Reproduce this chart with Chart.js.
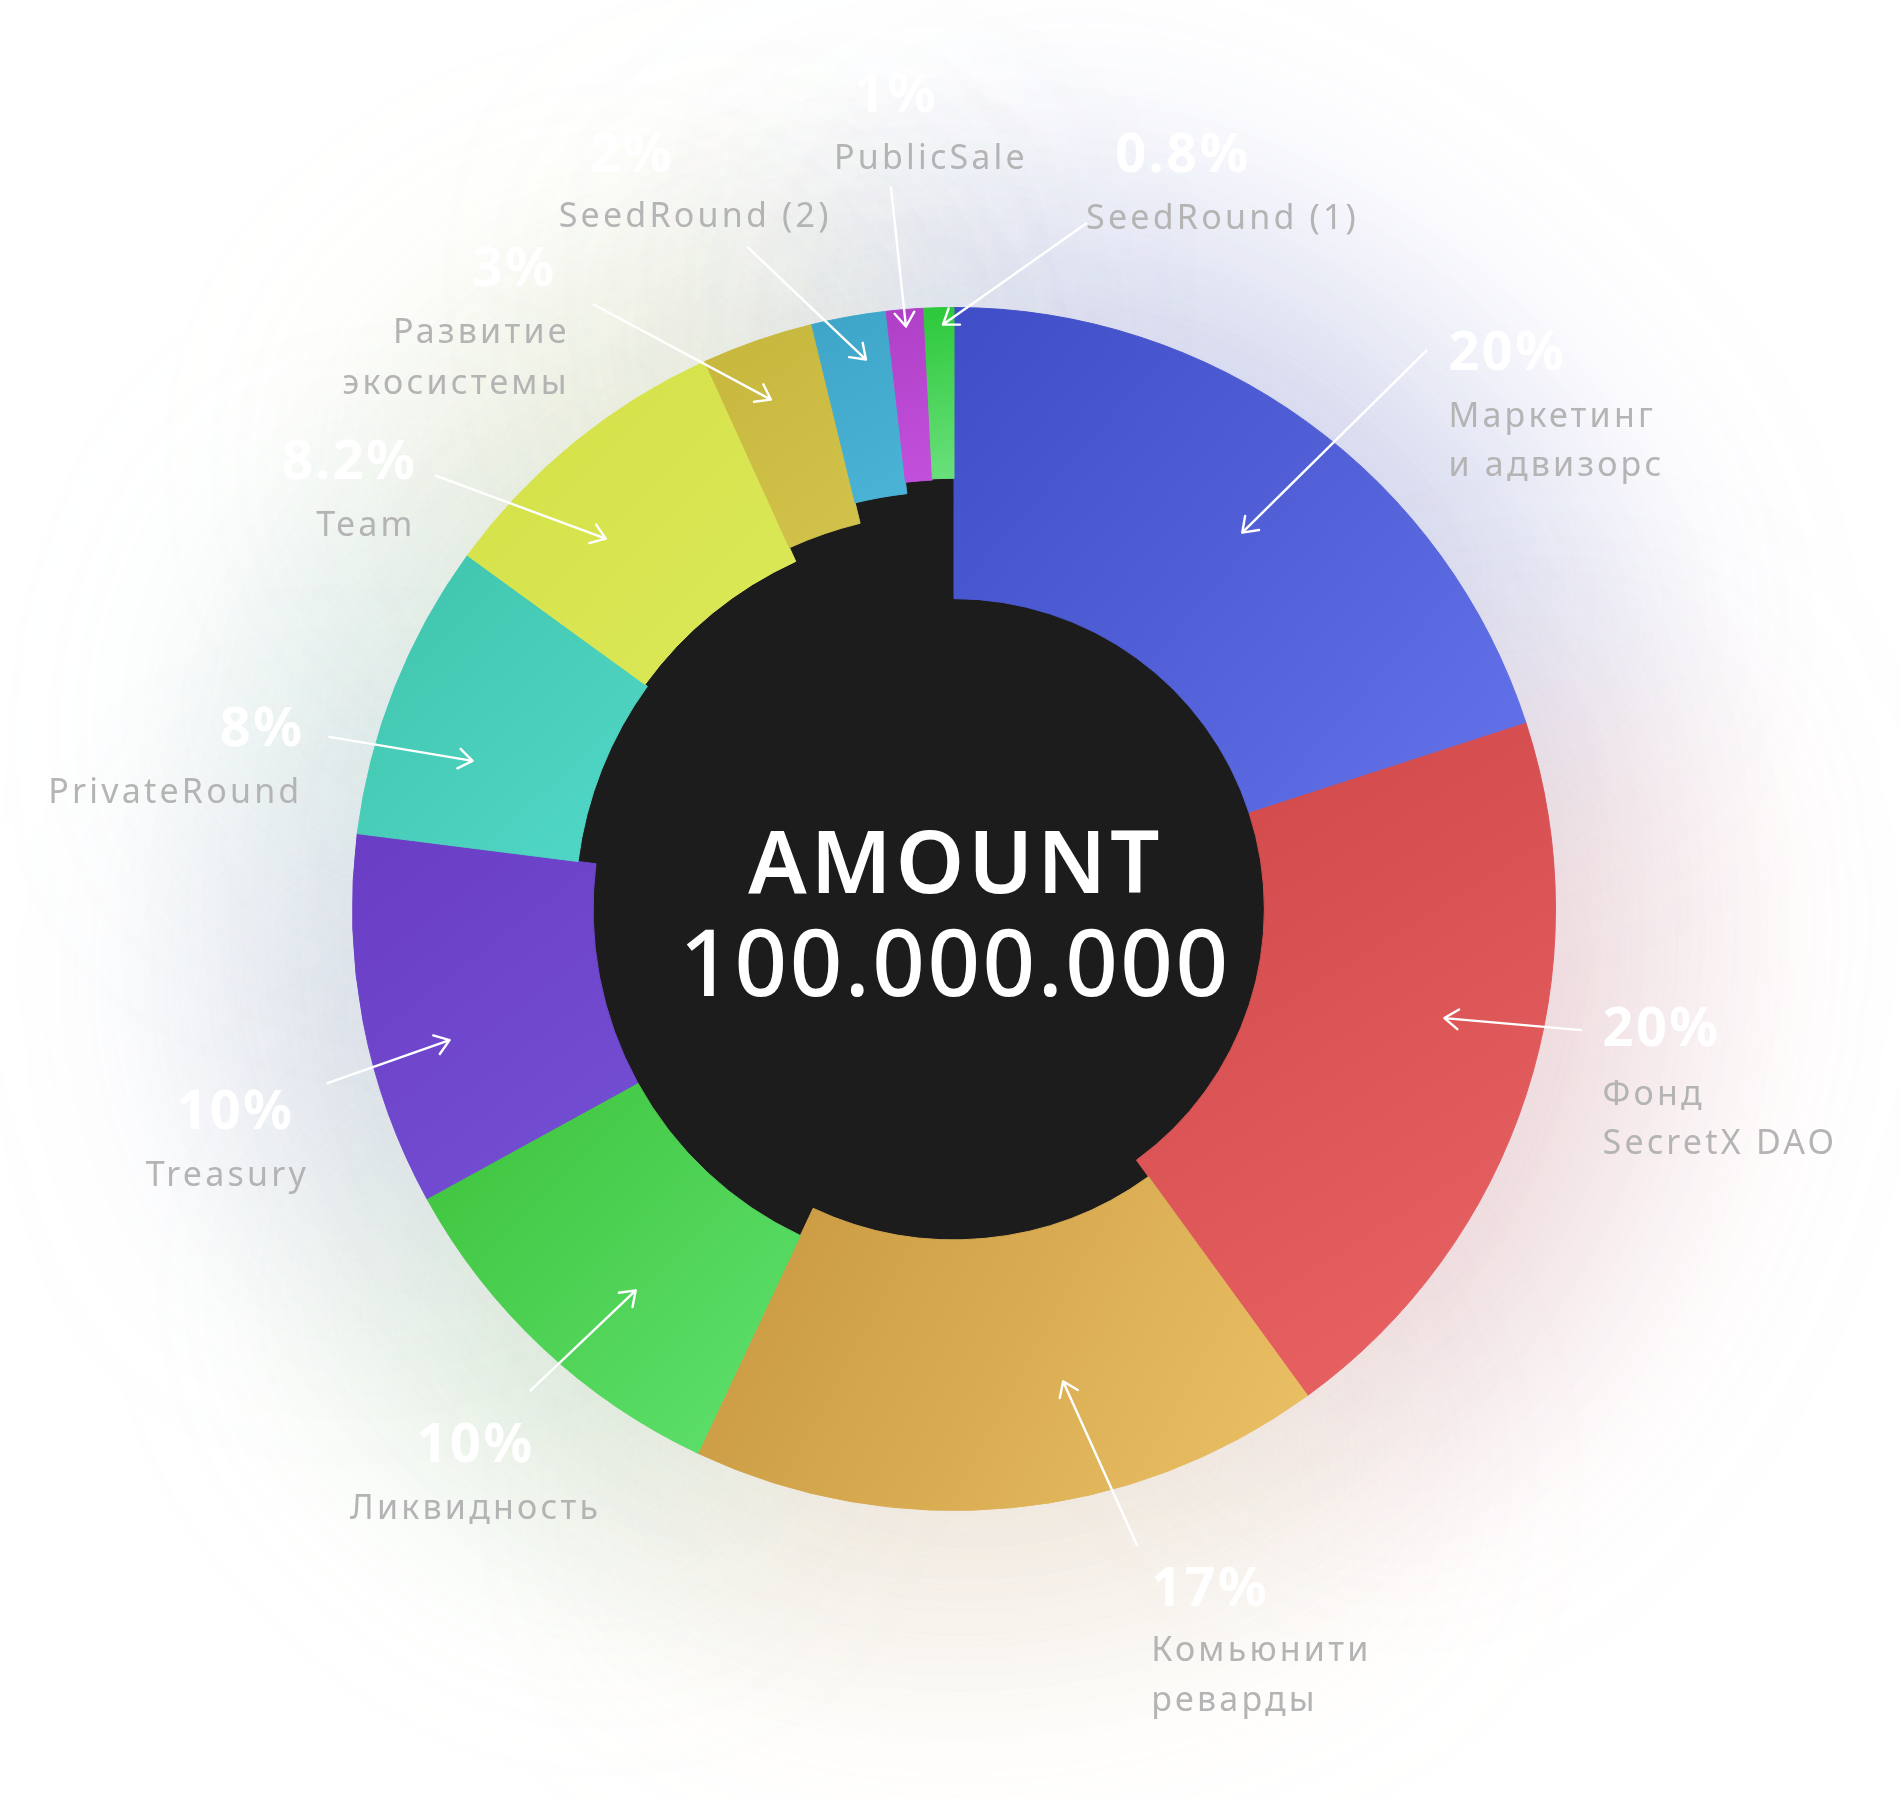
<!DOCTYPE html>
<html>
<head>
<meta charset="utf-8">
<script src="https://cdn.jsdelivr.net/npm/chart.js@4.4.1/dist/chart.umd.min.js"></script>
<style>
html,body{margin:0;padding:0;background:#ffffff;}
canvas{display:block;}
</style>
</head>
<body>
<canvas id="chart" width="1900" height="1799"></canvas>
<script>
// ---------- DATA ----------
const categories = [
  ['Маркетинг', 'и адвизорс'],
  ['Фонд', 'SecretX DAO'],
  ['Комьюнити', 'реварды'],
  ['Ликвидность'],
  ['Treasury'],
  ['PrivateRound'],
  ['Team'],
  ['Развитие', 'экосистемы'],
  ['SeedRound (2)'],
  ['PublicSale'],
  ['SeedRound (1)']
];
const shares = [20, 20, 17, 10, 10, 8, 8.2, 3, 2, 1, 0.8];
const centerTitle = 'AMOUNT';
const centerValue = '100.000.000';

// ---------- STYLE ----------
const innerRatios = [0.516, 0.516, 0.55, 0.60, 0.60, 0.63, 0.635, 0.66, 0.695, 0.714, 0.716];
const colorsDark  = ['#3f4dc6', '#cf4748', '#c6963f', '#3dc23a', '#6a3dc4', '#3fc3ab', '#d4e045', '#c6b63c', '#3ea5c8', '#b03fc6', '#2cc83a'];
const colorsLight = ['#6573ea', '#ea6466', '#ecc266', '#60e270', '#7450d4', '#52d8c8', '#dce95a', '#d2c34c', '#4ab3d6', '#c250dc', '#6ae07c'];
const glowColors  = ['#6f78d8', '#e07c84', '#e8c08a', '#8cc87a', '#8090c0', '#88c8b8', '#c8d880', '#c8c070', '#80b0c8', '#b080c8', '#80c890'];
const centerFill = '#1c1c1c';
const labelGray = '#b4b4b4';
// label layout: offsets (px at the reference radius of 601) from the chart centre
const REF_R = 601;
const labelLayout = [
  {align:'left',   pct:[494,-539],  lx:494,  ly:[-482,-433], tail:[472,-558],  head:[288,-376]},
  {align:'left',   pct:[648,137],   lx:648,  ly:[196,245],   tail:[627,121],   head:[490,109]},
  {align:'left',   pct:[197,696],   lx:197,  ly:[751,801],   tail:[183,636],   head:[109,472]},
  {align:'center', pct:[-478,553],  lx:-478, ly:[609],       tail:[-423,481],  head:[-318,381]},
  {align:'center', pct:[-718,220],  lx:-726, ly:[277],       tail:[-626,174],  head:[-504,131]},
  {align:'right',  pct:[-649,-163], lx:-651, ly:[-106],      tail:[-624,-172], head:[-481,-148]},
  {align:'right',  pct:[-536,-430], lx:-538, ly:[-373],      tail:[-518,-433], head:[-348,-370]},
  {align:'right',  pct:[-397,-622], lx:-384, ly:[-566,-515], tail:[-360,-604], head:[-183,-509]},
  {align:'left',   pct:[-364,-736], lx:-395, ly:[-681],      tail:[-206,-661], head:[-88,-549]},
  {align:'left',   pct:[-100,-796], lx:-120, ly:[-739],      tail:[-63,-721],  head:[-48,-582]},
  {align:'left',   pct:[161,-736],  lx:132,  ly:[-679],      tail:[132,-685],  head:[-11,-584]}
];

const gradCache = {};
function sliceFill(context) {
  const chart = context.chart;
  const a = chart.chartArea;
  const i = context.dataIndex;
  if (i === undefined) return colorsDark[0];
  if (!a) return colorsDark[i];
  const key = i + ':' + a.left + ':' + a.top + ':' + a.right + ':' + a.bottom;
  if (gradCache[key]) return gradCache[key];
  const cx = (a.left + a.right) / 2, cy = (a.top + a.bottom) / 2;
  const R = Math.min(a.right - a.left, a.bottom - a.top) / 2;
  const total = shares.reduce((s, v) => s + v, 0);
  const start = shares.slice(0, i).reduce((s, v) => s + v, 0) / total * Math.PI * 2 - Math.PI / 2;
  const end = start + shares[i] / total * Math.PI * 2;
  let minX = Infinity, minY = Infinity, maxX = -Infinity, maxY = -Infinity;
  for (let t = 0; t <= 24; t++) {
    const ang = start + (end - start) * t / 24;
    for (const r of [R * innerRatios[i], R]) {
      const x = cx + r * Math.cos(ang), y = cy + r * Math.sin(ang);
      minX = Math.min(minX, x); maxX = Math.max(maxX, x);
      minY = Math.min(minY, y); maxY = Math.max(maxY, y);
    }
  }
  const g = chart.ctx.createLinearGradient(minX, minY, maxX, maxY);
  g.addColorStop(0, colorsDark[i]);
  g.addColorStop(1, colorsLight[i]);
  gradCache[key] = g;
  return g;
}

const ringPlugin = {
  id: 'ringPlugin',
  afterDatasetUpdate(chart, args) {
    const meta = args.meta;
    meta.data.forEach((el, i) => {
      el.innerRadius = el.outerRadius * innerRatios[i];
    });
  },
  beforeDatasetsDraw(chart) {
    const meta = chart.getDatasetMeta(0);
    if (!meta.data.length) return;
    const ctx = chart.ctx;
    const el0 = meta.data[0];
    const cx = el0.x, cy = el0.y, R = el0.outerRadius;
    // neutral soft shadow
    ctx.save();
    ctx.filter = 'blur(110px)';
    ctx.globalAlpha = 0.10;
    ctx.beginPath();
    ctx.arc(cx, cy, R * 1.12, 0, Math.PI * 2);
    ctx.fillStyle = '#50607a';
    ctx.fill();
    ctx.restore();
    // soft coloured glow around the ring
    ctx.save();
    ctx.filter = 'blur(120px)';
    ctx.globalAlpha = 0.22;
    meta.data.forEach((el, i) => {
      ctx.beginPath();
      ctx.moveTo(cx, cy);
      ctx.arc(cx, cy, R * 1.22, el.startAngle, el.endAngle);
      ctx.closePath();
      ctx.fillStyle = glowColors[i];
      ctx.fill();
    });
    ctx.restore();
    // dark centre disc
    ctx.save();
    ctx.beginPath();
    ctx.arc(cx, cy, R * 0.73, 0, Math.PI * 2);
    ctx.fillStyle = centerFill;
    ctx.fill();
    ctx.restore();
  },
  afterDatasetsDraw(chart) {
    const meta = chart.getDatasetMeta(0);
    if (!meta.data.length) return;
    const ctx = chart.ctx;
    const el0 = meta.data[0];
    const cx = el0.x, cy = el0.y, R = el0.outerRadius;
    const k = R / REF_R;
    // centre text
    ctx.save();
    ctx.fillStyle = '#ffffff';
    ctx.textAlign = 'center';
    ctx.textBaseline = 'alphabetic';
    ctx.font = '600 ' + Math.round(87 * k) + 'px "Noto Sans"';
    ctx.letterSpacing = (4 * k) + 'px';
    ctx.fillText(centerTitle, cx + 2 * k, cy - 16 * k);
    ctx.font = '500 ' + Math.round(92 * k) + 'px "Noto Sans"';
    ctx.letterSpacing = (2.5 * k) + 'px';
    ctx.fillText(centerValue, cx + 1 * k, cy + 87 * k);
    ctx.restore();

    // arrows and labels
    meta.data.forEach((el, i) => {
      const L = labelLayout[i];
      const tx = cx + L.tail[0] * k, ty = cy + L.tail[1] * k;
      const hx = cx + L.head[0] * k, hy = cy + L.head[1] * k;
      ctx.save();
      ctx.strokeStyle = '#ffffff';
      ctx.lineWidth = 2.4;
      ctx.lineCap = 'round';
      ctx.lineJoin = 'round';
      ctx.beginPath();
      ctx.moveTo(tx, ty);
      ctx.lineTo(hx, hy);
      const ang = Math.atan2(hy - ty, hx - tx);
      const len = 17 * k, spread = 0.62;
      ctx.moveTo(hx - len * Math.cos(ang - spread), hy - len * Math.sin(ang - spread));
      ctx.lineTo(hx, hy);
      ctx.lineTo(hx - len * Math.cos(ang + spread), hy - len * Math.sin(ang + spread));
      ctx.stroke();
      ctx.restore();

      ctx.save();
      ctx.textBaseline = 'alphabetic';
      ctx.textAlign = L.align;
      ctx.fillStyle = '#ffffff';
      ctx.font = '700 ' + Math.round(54 * k) + 'px "Noto Sans"';
      ctx.letterSpacing = (2.5 * k) + 'px';
      ctx.fillText(shares[i] + '%', cx + L.pct[0] * k, cy + L.pct[1] * k);
      ctx.fillStyle = labelGray;
      ctx.font = '400 ' + Math.round(34 * k) + 'px "Noto Sans"';
      ctx.letterSpacing = (3.2 * k) + 'px';
      categories[i].forEach((line, j) => {
        ctx.fillText(line, cx + L.lx * k, cy + L.ly[j] * k);
      });
      ctx.restore();
    });
  }
};

new Chart(document.getElementById('chart'), {
  type: 'doughnut',
  data: {
    labels: categories.map(c => c.join(' ')),
    datasets: [{
      data: shares,
      backgroundColor: sliceFill,
      borderColor: sliceFill,
      borderWidth: 1,
      spacing: 0,
      hoverOffset: 0
    }]
  },
  options: {
    responsive: false,
    animation: false,
    events: [],
    cutout: '50%',
    rotation: 0,
    layout: { padding: { left: 352, right: 344, top: 307, bottom: 288 } },
    plugins: {
      legend: { display: false },
      tooltip: { enabled: false },
      title: { display: false }
    }
  },
  plugins: [ringPlugin]
});
</script>
</body>
</html>
